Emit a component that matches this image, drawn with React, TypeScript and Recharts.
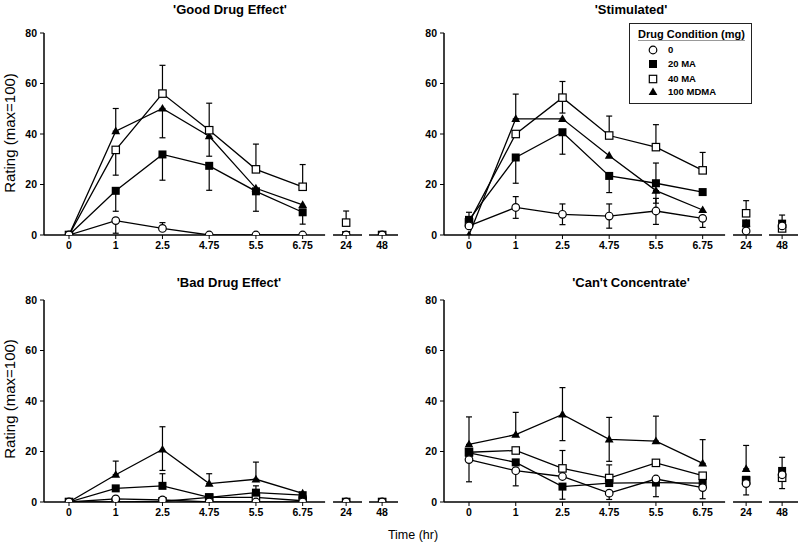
import React from 'react';
import { LineChart, Line, XAxis, YAxis, ErrorBar, ReferenceLine, Legend } from 'recharts';

// ---------- data ----------
const timeLabels = ['0', '1', '2.5', '4.75', '5.5', '6.75', '24', '48'];
const yTicks = [0, 20, 40, 60, 80];

type Err = [number, number] | null;

// 'Good Drug Effect'
const goodPlacebo = [0, 5.7, 2.6, 0, 0, 0, 0, 0];
const goodMA20 = [0, 17.5, 31.9, 27.4, 17.3, 9.0, 0, 0];
const goodMA40 = [0, 33.7, 56.0, 41.5, 26.0, 19.1, 4.9, 0];
const goodMDMA = [0, 41.1, 50.1, 39.1, 18.5, 11.9, 0, 0];
const goodPlaceboErr: Err[] = [null, [5, 0], [0, 2.3], null, null, null, null, null];
const goodMA20Err: Err[] = [null, [8.1, 0], [10.2, 0], [9.7, 0], [7.9, 0], [4.7, 0], null, null];
const goodMA40Err: Err[] = [null, [10, 0], [0, 11.2], [0, 10.7], [0, 10], [0, 8.8], [0, 4.6], null];
const goodMDMAErr: Err[] = [null, [0, 9], [11.6, 0], [7.9, 0], null, null, null, null];

// 'Stimulated'
const stimPlacebo = [3.6, 10.9, 8.2, 7.5, 9.5, 6.6, 1.6, 3.6];
const stimMA20 = [6, 30.7, 40.7, 23.4, 20.5, 17, 4.6, 4.5];
const stimMA40 = [5, 40, 54.4, 39.4, 34.8, 25.6, 8.6, 2.6];
const stimMDMA = [0, 46, 46, 31.4, 17.6, 9.9, 4.6, 4];
const stimPlaceboErr: Err[] = [null, [4.3, 4.3], [4.1, 4.1], [4.8, 4.8], [5.3, 5], [3.6, 0], null, null];
const stimMA20Err: Err[] = [[0, 3], [10.2, 0], [8.7, 0], [6.6, 0], [0, 8], null, null, null];
const stimMA40Err: Err[] = [null, null, [6.1, 6.4], [0, 7.7], [0, 8.9], [0, 7.1], [0, 5], [0, 5.3]];
const stimMDMAErr: Err[] = [null, [0, 9.8], null, null, [5, 0], null, null, null];

// 'Bad Drug Effect'
const badPlacebo = [0, 1.2, 0.8, 0, 0, 0, 0, 0];
const badMA20 = [0, 5.4, 6.4, 1.8, 3.7, 2.7, 0, 0];
const badMA40 = [0, 0, 0.2, 1.8, 1.8, 0.5, 0, 0];
const badMDMA = [0, 10.8, 20.8, 7.3, 9.0, 3.4, 0, 0];
const badPlaceboErr: Err[] = [null, null, null, null, null, null, null, null];
const badMA20Err: Err[] = [null, null, [0, 4.8], null, [0, 2.7], null, null, null];
const badMA40Err: Err[] = [null, null, null, null, null, null, null, null];
const badMDMAErr: Err[] = [null, [0, 5.4], [8.3, 9], [0, 3.9], [0, 6.8], null, null, null];

// 'Can't Concentrate'
const cantPlacebo = [16.8, 12.4, 10.1, 3.5, 9.1, 5.7, 7.3, 10.8];
const cantMA20 = [19.5, 15.7, 6.1, 7.5, 7.7, 7.5, 8.8, 12.3];
const cantMA40 = [19.7, 20.4, 13.3, 9.5, 15.5, 10.4, 8.5, 9.6];
const cantMDMA = [22.8, 26.7, 34.7, 24.8, 24.1, 15.3, 13.1, 11];
const cantPlaceboErr: Err[] = [[8.8, 0], [6, 0], null, [2.5, 0], [7, 0], [4.4, 0], [4.5, 0], [5.5, 0]];
const cantMA20Err: Err[] = [null, null, [5, 0], null, null, null, null, [0, 5.4]];
const cantMA40Err: Err[] = [null, null, [0, 7.1], [0, 5.2], null, null, null, null];
const cantMDMAErr: Err[] = [[0, 10.9], [0, 8.8], [10.4, 10.6], [8.7, 8.7], [0, 9.9], [0, 9.4], [0, 9.3], null];

// ---------- layout / style ----------
const FONT = '"Liberation Sans", Arial, Helvetica, sans-serif';
const xSlots = [0, 1, 2, 3, 4, 5, 5.93, 6.7]; // horizontal slot of each time label (broken axis)
const xDomain: [number, number] = [-0.535, 7.04];
const axisSegments: [number, number][] = [[-0.535, 5.48], [5.65, 6.27], [6.42, 7.04]];

type Shape = 'circle' | 'filledSquare' | 'openSquare' | 'triangle';
const SERIES: { key: string; name: string; shape: Shape }[] = [
  { key: 'mdma', name: '100 MDMA', shape: 'triangle' },
  { key: 'ma40', name: '40 MA', shape: 'openSquare' },
  { key: 'ma20', name: '20 MA', shape: 'filledSquare' },
  { key: 'placebo', name: '0', shape: 'circle' },
];
const LEGEND_ORDER = ['placebo', 'ma20', 'ma40', 'mdma'];

function MarkerShape({ shape, cx, cy }: { shape: Shape; cx: number; cy: number }) {
  switch (shape) {
    case 'circle':
      return <circle cx={cx} cy={cy} r={3.8} fill="#fff" stroke="#000" strokeWidth={1.2} />;
    case 'filledSquare':
      return <rect x={cx - 4} y={cy - 4} width={8} height={8} fill="#000" />;
    case 'openSquare':
      return <rect x={cx - 3.7} y={cy - 3.7} width={7.4} height={7.4} fill="#fff" stroke="#000" strokeWidth={1.2} />;
    case 'triangle':
    default:
      return <polygon points={`${cx},${cy - 4.6} ${cx + 4.4},${cy + 3.1} ${cx - 4.4},${cy + 3.1}`} fill="#000" />;
  }
}

const makeDot = (shape: Shape, key: string) => (props: any) => {
  const { cx, cy, index } = props;
  const k = `${key}-dot-${index}`;
  if (cx == null || cy == null || Number.isNaN(cx) || Number.isNaN(cy)) return <g key={k} />;
  return (
    <g key={k}>
      <MarkerShape shape={shape} cx={cx} cy={cy} />
    </g>
  );
};

function buildRows(values: Record<string, number[]>, errs: Record<string, Err[]>) {
  const rows: any[] = [];
  timeLabels.forEach((_, i) => {
    if (i >= 6) rows.push({ x: (xSlots[i - 1] + xSlots[i]) / 2 }); // axis break: no values
    const row: any = { x: xSlots[i] };
    Object.keys(values).forEach((k) => {
      row[k] = values[k][i];
      const e = errs[k][i];
      if (e) row[k + 'Err'] = e;
    });
    rows.push(row);
  });
  return rows;
}

const goodRows = buildRows(
  { placebo: goodPlacebo, ma20: goodMA20, ma40: goodMA40, mdma: goodMDMA },
  { placebo: goodPlaceboErr, ma20: goodMA20Err, ma40: goodMA40Err, mdma: goodMDMAErr }
);
const stimRows = buildRows(
  { placebo: stimPlacebo, ma20: stimMA20, ma40: stimMA40, mdma: stimMDMA },
  { placebo: stimPlaceboErr, ma20: stimMA20Err, ma40: stimMA40Err, mdma: stimMDMAErr }
);
const badRows = buildRows(
  { placebo: badPlacebo, ma20: badMA20, ma40: badMA40, mdma: badMDMA },
  { placebo: badPlaceboErr, ma20: badMA20Err, ma40: badMA40Err, mdma: badMDMAErr }
);
const cantRows = buildRows(
  { placebo: cantPlacebo, ma20: cantMA20, ma40: cantMA40, mdma: cantMDMA },
  { placebo: cantPlaceboErr, ma20: cantMA20Err, ma40: cantMA40Err, mdma: cantMDMAErr }
);

function LegendBox() {
  const rowY = [26, 40, 55, 68];
  return (
    <div
      style={{
        boxSizing: 'border-box',
        width: 123,
        height: 81,
        border: '1px solid #222',
        background: '#fff',
        position: 'relative',
        fontFamily: FONT,
        color: '#000',
      }}
    >
      <div
        style={{
          position: 'absolute',
          left: 8,
          top: 4,
          fontSize: 11,
          fontWeight: 'bold',
          lineHeight: '12px',
          borderBottom: '1px solid #999',
          whiteSpace: 'nowrap',
        }}
      >
        Drug Condition (mg)
      </div>
      {LEGEND_ORDER.map((k, i) => {
        const s = SERIES.find((d) => d.key === k)!;
        return (
          <div key={k} style={{ position: 'absolute', left: 0, top: rowY[i] - 7, height: 14, width: 120 }}>
            <svg width={34} height={14} style={{ position: 'absolute', left: 0, top: 0 }}>
              <MarkerShape shape={s.shape} cx={23} cy={7} />
            </svg>
            <span
              style={{
                position: 'absolute',
                left: 38,
                top: 0,
                lineHeight: '14px',
                fontSize: 9.5,
                fontWeight: 'bold',
                whiteSpace: 'nowrap',
              }}
            >
              {s.name}
            </span>
          </div>
        );
      })}
    </div>
  );
}

function Panel({
  rows,
  left,
  top,
  height,
  marginTop,
  marginBottom,
  legend,
}: {
  rows: any[];
  left: number;
  top: number;
  height: number;
  marginTop: number;
  marginBottom: number;
  legend?: boolean;
}) {
  return (
    <div style={{ position: 'absolute', left, top }}>
      <LineChart
        width={400}
        height={height}
        data={rows}
        margin={{ top: marginTop, right: 2, bottom: marginBottom, left: 0 }}
      >
        <XAxis
          type="number"
          dataKey="x"
          domain={xDomain}
          ticks={xSlots}
          interval={0}
          allowDataOverflow
          axisLine={false}
          tickLine={{ stroke: '#000', strokeWidth: 1 }}
          tickSize={4}
          tickMargin={3}
          height={30}
          tickFormatter={(v: number) => timeLabels[xSlots.indexOf(v)] ?? ''}
          tick={{ fill: '#000', fontSize: 10.5, fontWeight: 'bold', fontFamily: FONT }}
        />
        <YAxis
          type="number"
          domain={[0, 80]}
          ticks={yTicks}
          interval={0}
          allowDataOverflow
          width={44}
          axisLine={{ stroke: '#000', strokeWidth: 1.5 }}
          tickLine={{ stroke: '#000', strokeWidth: 1 }}
          tickSize={4}
          tickMargin={3}
          tick={{ fill: '#000', fontSize: 10.5, fontWeight: 'bold', fontFamily: FONT }}
        />
        {axisSegments.map(([a, b], i) => (
          <ReferenceLine
            key={`seg-${i}`}
            segment={[
              { x: a, y: 0 },
              { x: b, y: 0 },
            ]}
            stroke="#000"
            strokeWidth={1.5}
            ifOverflow="visible"
          />
        ))}
        {SERIES.map((s) => (
          <Line
            key={s.key}
            type="linear"
            dataKey={s.key}
            name={s.name}
            stroke="#000"
            strokeWidth={1.3}
            dot={makeDot(s.shape, s.key)}
            activeDot={false}
            connectNulls={false}
            isAnimationActive={false}
          >
            <ErrorBar dataKey={s.key + 'Err'} width={3} stroke="#000" strokeWidth={1.2} direction="y" />
          </Line>
        ))}
        {legend && (
          <Legend
            layout="vertical"
            align="center"
            verticalAlign="middle"
            wrapperStyle={{ left: 229, top: 23, width: 123, height: 81 }}
            content={() => <LegendBox />}
          />
        )}
      </LineChart>
    </div>
  );
}

export default function App() {
  const titleStyle = { fontFamily: FONT, fontSize: 13, fontWeight: 'bold' as const, fill: '#000' };
  const labelStyle = { fontFamily: FONT, fontSize: 15, fill: '#000' };
  return (
    <div style={{ position: 'absolute', left: 0, top: 0, width: 800, height: 545, background: '#fff' }}>
      <Panel rows={goodRows} left={0} top={0} height={270} marginTop={33} marginBottom={5} />
      <Panel rows={stimRows} left={400} top={0} height={270} marginTop={33} marginBottom={5} legend />
      <Panel rows={badRows} left={0} top={270} height={275} marginTop={30} marginBottom={13} />
      <Panel rows={cantRows} left={400} top={270} height={275} marginTop={30} marginBottom={13} />
      <svg
        width={800}
        height={545}
        style={{ position: 'absolute', left: 0, top: 0, pointerEvents: 'none' }}
      >
        <text x={230} y={9} textAnchor="middle" dominantBaseline="central" style={titleStyle}>
          'Good Drug Effect'
        </text>
        <text x={631} y={9} textAnchor="middle" dominantBaseline="central" style={titleStyle}>
          'Stimulated'
        </text>
        <text x={229} y={282} textAnchor="middle" dominantBaseline="central" style={titleStyle}>
          'Bad Drug Effect'
        </text>
        <text x={631} y={282} textAnchor="middle" dominantBaseline="central" style={titleStyle}>
          'Can't Concentrate'
        </text>
        <text
          x={9}
          y={133}
          textAnchor="middle"
          dominantBaseline="central"
          transform="rotate(-90 9 133)"
          style={labelStyle}
        >
          Rating (max=100)
        </text>
        <text
          x={9}
          y={399}
          textAnchor="middle"
          dominantBaseline="central"
          transform="rotate(-90 9 399)"
          style={labelStyle}
        >
          Rating (max=100)
        </text>
        <text x={413} y={535} textAnchor="middle" dominantBaseline="central" style={{ ...labelStyle, fontSize: 12.5 }}>
          Time (hr)
        </text>
      </svg>
    </div>
  );
}
